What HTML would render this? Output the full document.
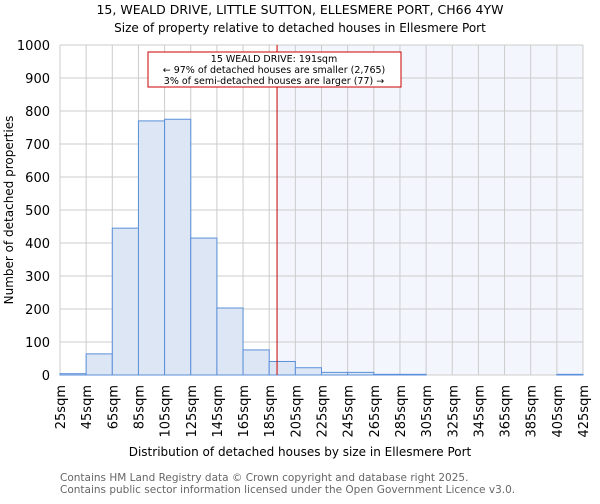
<!DOCTYPE html>
<html><head><meta charset="utf-8"><style>
body{margin:0;background:#fff;font-family:"DejaVu Sans","Liberation Sans",sans-serif}
</style></head><body>
<svg width="600" height="500" xmlns="http://www.w3.org/2000/svg" id="chart" font-family="DejaVu Sans, Liberation Sans, sans-serif">
<text x="300" y="14" text-anchor="middle" font-size="12.5">15, WEALD DRIVE, LITTLE SUTTON, ELLESMERE PORT, CH66 4YW</text>
<text x="300" y="32" text-anchor="middle" font-size="12">Size of property relative to detached houses in Ellesmere Port</text>
<text x="300" y="456" text-anchor="middle" font-size="12">Distribution of detached houses by size in Ellesmere Port</text>
<text transform="translate(13,210) rotate(-90)" text-anchor="middle" font-size="12">Number of detached properties</text>
<text x="60" y="481" font-size="10.5" fill="#666">Contains HM Land Registry data © Crown copyright and database right 2025.</text>
<text x="60" y="493" font-size="10.5" fill="#666">Contains public sector information licensed under the Open Government Licence v3.0.</text>
</svg>
<script>
const binStarts=[25,45,65,85,105,125,145,165,185,205,225,245,265,285,305,325,345,365,385,405];
const counts=[4,64,445,770,775,415,203,76,41,22,8,8,2,2,0,0,0,0,0,2];
const yTicks=[0,100,200,300,400,500,600,700,800,900,1000];
const xTickLabels=[25,45,65,85,105,125,145,165,185,205,225,245,265,285,305,325,345,365,385,405,425];
const subjectSize=191;
const annoLines=["15 WEALD DRIVE: 191sqm","← 97% of detached houses are smaller (2,765)","3% of semi-detached houses are larger (77) →"];
const L=60,R=583,T=45,B=375,xmin=25,xmax=425,ymax=1000;
const sx=v=>L+(v-xmin)/(xmax-xmin)*(R-L);
const sy=v=>B-v/ymax*(B-T);
const svg=document.getElementById('chart');const NS='http://www.w3.org/2000/svg';
function mk(t,a){const e=document.createElementNS(NS,t);for(const k in a)e.setAttribute(k,a[k]);svg.appendChild(e);return e;}
let e=mk('rect',{x:sx(subjectSize),y:T,width:R-sx(subjectSize),height:B-T,fill:'#f3f6fd'});


yTicks.forEach(v=>{const g=mk('line',{x1:L,x2:R,y1:sy(v),y2:sy(v),stroke:'#ccc','stroke-width':1});


const t=mk('text',{x:L-10,y:sy(v)+5,'text-anchor':'end','font-size':13});t.textContent=v;

});
xTickLabels.forEach(v=>{const g=mk('line',{x1:sx(v),x2:sx(v),y1:T,y2:B,stroke:'#ccc','stroke-width':1});


const t=mk('text',{transform:`translate(${sx(v)+5},${B+10}) rotate(-90)`,'text-anchor':'end','font-size':13});t.textContent=v+'sqm';

});
binStarts.forEach((s,i)=>{const r=mk('rect',{x:sx(s),y:sy(counts[i]),width:sx(s+20)-sx(s),height:B-sy(counts[i]),fill:'#dde6f4',stroke:'#5b8fd9','stroke-width':1});

});
e=mk('line',{x1:sx(subjectSize),x2:sx(subjectSize),y1:T,y2:B,stroke:'#c00','stroke-width':1});


e=mk('rect',{x:148,y:52,width:253,height:35,fill:'#fff',stroke:'#c00','stroke-width':1});


annoLines.forEach((s,i)=>{const t=mk('text',{x:274,y:62+i*11,'text-anchor':'middle','font-size':9.5});t.textContent=s;

});
</script>
</body></html>
